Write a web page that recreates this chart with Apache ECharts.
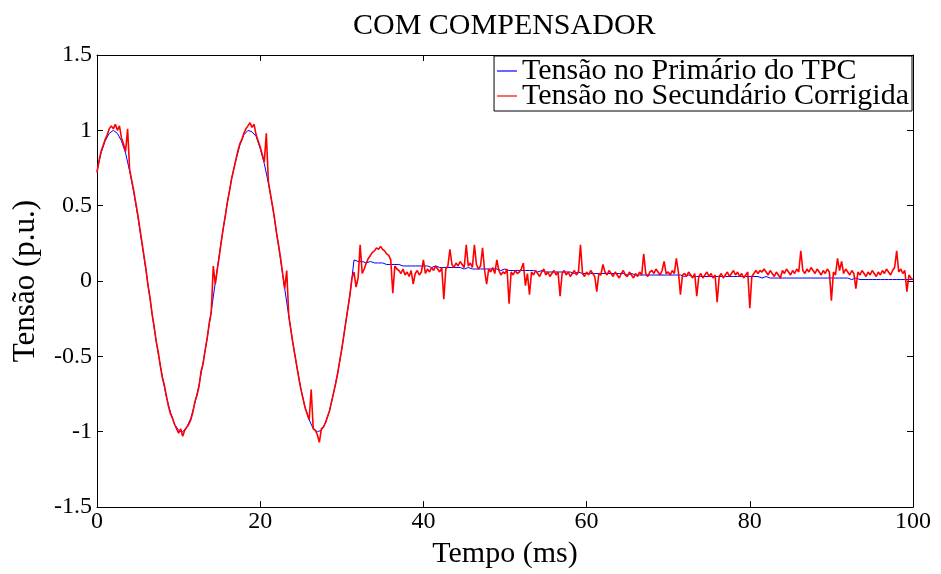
<!DOCTYPE html>
<html><head><meta charset="utf-8">
<script src="https://cdn.jsdelivr.net/npm/echarts@6/dist/echarts.min.js"></script>
<style>html,body{margin:0;padding:0;background:#fff}#c{width:941px;height:574px}</style>
</head><body><div id="c"></div><script>
const chartTitle = 'COM COMPENSADOR';
const xName = 'Tempo (ms)';
const yName = 'Tensão (p.u.)';
const seriesNames = ['Tensão no Primário do TPC', 'Tensão no Secundário Corrigida'];
const xTicks = [0, 20, 40, 60, 80, 100];
const yTicks = [-1.5, -1, -0.5, 0, 0.5, 1, 1.5];
const blueStep = 0.5;   // ms between samples of the primary voltage
const redStep = 0.25;   // ms between samples of the corrected secondary voltage

// primary voltage (p.u.), t = 0 ... 100 ms
const blueValues = [
  0.73,0.85,0.93,0.98,1.00,0.98,0.93,0.85,0.73,0.59,
  0.43,0.25,0.07,-0.12,-0.31,-0.48,-0.63,-0.77,-0.87,-0.95,
  -0.99,-1.00,-0.97,-0.91,-0.81,-0.69,-0.54,-0.38,-0.20,-0.01,
  0.18,0.36,0.53,0.68,0.80,0.90,0.97,1.00,0.99,0.96,
  0.88,0.78,0.65,0.50,0.32,0.14,-0.05,-0.23,-0.41,-0.57,
  -0.72,-0.84,-0.92,-0.98,-1.00,-0.99,-0.94,-0.86,-0.74,-0.61,
  -0.45,-0.27,-0.09,0.14,
  0.13,0.13,0.12,0.13,0.12,0.12,0.12,0.11,0.11,0.11,0.11,0.10,0.10,0.10,0.10,0.10,0.10,
  0.10,0.09,0.10,0.09,0.09,0.09,0.09,0.09,0.09,0.08,0.09,0.08,0.08,0.08,0.08,0.08,0.08,0.08,0.07,0.08,
  0.07,0.07,0.07,0.07,0.07,0.07,0.07,0.06,0.07,0.06,0.06,0.06,0.06,0.06,0.06,0.06,0.05,0.06,0.05,0.05,
  0.05,0.05,0.05,0.05,0.05,0.05,0.05,0.05,0.05,0.04,0.05,0.04,0.04,0.04,0.04,0.04,0.04,0.04,0.04,0.04,
  0.04,0.04,0.04,0.03,0.04,0.03,0.03,0.03,0.03,0.03,0.03,0.03,0.03,0.03,0.03,0.03,0.03,0.03,0.03,0.03,
  0.03,0.03,0.02,0.03,0.02,0.02,0.02,0.02,0.02,0.02,0.02,0.02,0.02,0.02,0.02,0.02,0.02,0.02,0.02,0.02,
  0.02,0.02,0.02,0.02,0.01,0.02,0.01,0.01,0.01,0.01,0.01,0.01,0.01,0.01,0.01,0.01,0.01,0.01,0.01,0.01
];

// corrected secondary voltage (p.u.), t = 0 ... 100 ms
const redValues = [
  0.72,0.80, 0.86,0.90, 0.94,0.97, 1.01,1.03, 1.01,1.04, 1.00,1.03, 0.95,0.91, 0.86,1.01,
  0.74,0.67, 0.60,0.52, 0.44,0.35, 0.26,0.17, 0.08,-0.03, -0.11,-0.22, -0.30,-0.40, -0.47,-0.56,
  -0.64,-0.69, -0.76,-0.83, -0.88,-0.91, -0.95,-0.98, -1.01,-0.98, -1.03,-0.99, -0.97,-0.95, -0.92,-0.87,
  -0.80,-0.76, -0.70,-0.60, -0.55,-0.46, -0.38,-0.28, -0.21,0.10, -0.02,0.08, 0.17,0.27, 0.36,0.44,
  0.53,0.60, 0.68,0.74, 0.80,0.86, 0.91,0.94, 0.98,1.01, 1.03,1.05, 1.02,1.04, 0.97,0.93,
  0.89,0.84, 0.79,0.98, 0.66,0.58, 0.50,0.42, 0.32,0.24, 0.15,0.05, -0.05,0.07, -0.23,-0.32,
  -0.41,-0.49, -0.57,-0.65, -0.72,-0.78, -0.84,-0.88, -0.92,-0.72, -0.98,-0.99, -1.02,-1.07, -0.98,-0.97,
  -0.94,-0.90, -0.86,-0.80, -0.74,-0.68, -0.61,-0.53, -0.45,-0.36, -0.27,-0.18, -0.09,
  0.02,0.06,-0.04,
  0.02,0.24,0.05,0.08, 0.12,0.15,0.17,0.19, 0.20,0.22,0.21,0.23, 0.21,0.20,0.18,0.17,
  0.14,-0.08,0.10,0.08, 0.07,0.05,0.08,0.04, 0.06,0.03,0.07,-0.02, 0.05,0.07,0.04,0.06,
  0.14,0.05,0.08,0.06, 0.09,0.07,0.10,0.08, 0.06,0.09,-0.12,0.08, 0.10,0.21,0.11,0.09,
  0.12,0.10,0.13,0.11, 0.09,0.24,0.10,0.12, 0.09,0.24,0.11,0.08, 0.10,0.22,0.07,-0.02,
  0.08,0.06,0.09,0.05, 0.14,0.07,0.04,0.06, 0.05,0.08,-0.15,0.06, 0.04,0.07,0.05,0.06,
  0.08,0.12,-0.03,0.05, -0.09,0.06,0.04,0.07, 0.05,0.03,0.06,0.08, 0.04,0.06,0.03,0.05,
  0.07,0.04,0.06,-0.10, 0.05,0.07,0.04,0.06, 0.03,0.05,0.07,0.04, 0.06,0.24,0.05,0.03,
  0.06,0.04,0.07,0.05, 0.03,-0.07,0.05,0.04, 0.11,0.06,0.04,0.07, 0.05,0.03,0.06,0.04,
  0.02,0.05,0.07,0.04, 0.03,0.06,0.04,0.02, 0.05,0.03,0.06,0.04, 0.18,0.05,0.03,0.06,
  0.07,0.05,0.08,0.06, 0.04,0.07,0.13,0.05, 0.06,0.04,0.07,0.05, 0.15,0.06,-0.09,0.04,
  0.05,0.03,0.06,0.04, 0.02,0.05,-0.10,0.03, 0.05,0.02,0.04,0.06, 0.03,0.05,0.02,0.04,
  -0.14,0.03,0.05,0.02, 0.04,0.06,0.03,0.05, 0.07,0.04,0.06,0.03, 0.05,0.02,0.04,0.06,
  -0.18,0.03,0.05,0.07, 0.05,0.07,0.06,0.08, 0.06,0.04,0.07,0.05, 0.03,0.06,0.04,0.02,
  0.07,0.05,0.08,0.06, 0.04,0.07,0.05,0.08, 0.06,0.20,0.07,0.05, 0.08,0.06,0.09,0.07,
  0.05,0.08,0.06,0.04, 0.07,0.05,0.08,0.06, -0.13,0.06,0.04,0.15, 0.07,0.13,0.05,0.08,
  0.06,0.04,0.07,0.05, -0.05,0.06,0.04,0.07, 0.05,0.03,0.06,0.04, 0.07,0.05,0.03,0.06,
  0.04,0.07,0.05,0.08, 0.06,0.04,0.07,0.09, 0.20,0.06,0.08,0.05, 0.07,-0.07,0.04,0.02,
  0.01
];

const FONT = "'Liberation Serif', 'Times New Roman', serif";
const blueData = blueValues.map((v, i) => [i * blueStep, v]);
const redData = redValues.map((v, i) => [i * redStep, v]);

const xMin = xTicks[0], xMax = xTicks[xTicks.length - 1], xInt = xTicks[1] - xTicks[0];
const yMin = yTicks[0], yMax = yTicks[yTicks.length - 1], yInt = yTicks[1] - yTicks[0];

const axisCommon = {
  axisLine: { show: true, onZero: false, lineStyle: { color: '#000', width: 1 } },
  axisTick: { show: true, inside: true, length: 6, lineStyle: { color: '#000' } },
  splitLine: { show: false }
};

const chart = echarts.init(document.getElementById('c'), null, { renderer: 'canvas' });
chart.setOption({
  backgroundColor: '#fff',
  animation: false,
  title: {
    text: chartTitle, left: 348, top: 6,
    textStyle: { fontFamily: FONT, fontSize: 30, fontWeight: 'normal', color: '#000' }
  },
  legend: {
    orient: 'vertical', right: 29, top: 56,
    data: seriesNames.map(n => ({ name: n, icon: 'rect' })),
    backgroundColor: '#fff', borderColor: '#000', borderWidth: 1,
    padding: [0, 3, 0, 3], itemGap: -5, itemWidth: 20, itemHeight: 1.2,
    textStyle: { fontFamily: FONT, fontSize: 30, color: '#000', lineHeight: 25 }
  },
  grid: { left: 97, right: 28, top: 55, bottom: 65, containLabel: false },
  xAxis: [
    Object.assign({
      type: 'value', min: xMin, max: xMax, interval: xInt, position: 'bottom',
      name: xName, nameLocation: 'middle', nameGap: 22,
      nameTextStyle: { fontFamily: FONT, fontSize: 30, color: '#000' },
      axisLabel: { fontFamily: FONT, fontSize: 24, color: '#000', margin: 3 }
    }, axisCommon),
    Object.assign({
      type: 'value', min: xMin, max: xMax, interval: xInt, position: 'top',
      axisLabel: { show: false }
    }, axisCommon)
  ],
  yAxis: [
    Object.assign({
      type: 'value', min: yMin, max: yMax, interval: yInt, position: 'left',
      name: yName, nameLocation: 'middle', nameGap: 56,
      nameTextStyle: { fontFamily: FONT, fontSize: 31, color: '#000' },
      axisLabel: { fontFamily: FONT, fontSize: 24, color: '#000', margin: 5 }
    }, axisCommon),
    Object.assign({
      type: 'value', min: yMin, max: yMax, interval: yInt, position: 'right',
      axisLabel: { show: false }
    }, axisCommon)
  ],
  series: [
    {
      name: seriesNames[0], type: 'line', data: blueData, symbol: 'none',
      lineStyle: { color: '#0000ff', width: 1 }, itemStyle: { color: '#0000ff' }, z: 2
    },
    {
      name: seriesNames[1], type: 'line', data: redData, symbol: 'none',
      lineStyle: { color: '#ff0000', width: 1.6 }, itemStyle: { color: '#ff0000' }, z: 3
    }
  ]
});
</script></body></html>
